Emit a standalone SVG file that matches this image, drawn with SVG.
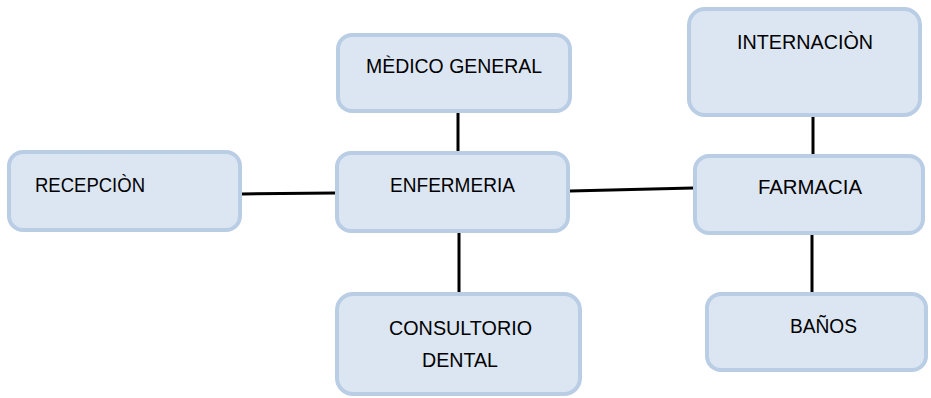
<svg xmlns="http://www.w3.org/2000/svg" width="931" height="398" viewBox="0 0 931 398">
<style>
.box{fill:#dce6f2;stroke:#b9cde5;stroke-width:4}
.lbl{font-family:"Liberation Sans",Arial,sans-serif;font-size:20.5px;fill:#000;text-anchor:middle}
.ln{stroke:#000;stroke-width:3;fill:none}
</style>
<rect width="931" height="398" fill="#fff"/>
<g id="connectors">
<line class="ln" x1="242" y1="194" x2="335" y2="193"/>
<line class="ln" x1="458" y1="113" x2="458" y2="151"/>
<line class="ln" x1="459" y1="233" x2="459" y2="292"/>
<line class="ln" x1="570" y1="191" x2="693" y2="188"/>
<line class="ln" x1="813" y1="117" x2="813" y2="154"/>
<line class="ln" x1="812" y1="235" x2="812" y2="292"/>
</g>
<g id="recepcion">
<rect class="box" x="9" y="152" width="231" height="78" rx="14"/>
<text class="lbl" x="90" y="192" textLength="110" lengthAdjust="spacingAndGlyphs">RECEPCIÒN</text>
</g>
<g id="medico">
<rect class="box" x="338" y="35" width="232" height="76" rx="14"/>
<text class="lbl" x="454" y="73" textLength="176" lengthAdjust="spacingAndGlyphs">MÈDICO GENERAL</text>
</g>
<g id="enfermeria">
<rect class="box" x="337" y="153" width="231" height="78" rx="14"/>
<text class="lbl" x="452.5" y="192" textLength="125" lengthAdjust="spacingAndGlyphs">ENFERMERIA</text>
</g>
<g id="consultorio">
<rect class="box" x="337" y="294" width="243" height="100" rx="16"/>
<text class="lbl" x="460.5" y="335" textLength="143" lengthAdjust="spacingAndGlyphs">CONSULTORIO</text>
<text class="lbl" x="460" y="367" textLength="76" lengthAdjust="spacingAndGlyphs">DENTAL</text>
</g>
<g id="internacion">
<rect class="box" x="689" y="9" width="231" height="106" rx="16"/>
<text class="lbl" x="805" y="49" textLength="136" lengthAdjust="spacingAndGlyphs">INTERNACIÒN</text>
</g>
<g id="farmacia">
<rect class="box" x="695" y="156" width="228" height="77" rx="14"/>
<text class="lbl" x="810" y="194" textLength="104" lengthAdjust="spacingAndGlyphs">FARMACIA</text>
</g>
<g id="banos">
<rect class="box" x="707" y="294" width="219" height="76" rx="14"/>
<text class="lbl" x="823.5" y="333" textLength="67" lengthAdjust="spacingAndGlyphs">BAÑOS</text>
</g>
</svg>
